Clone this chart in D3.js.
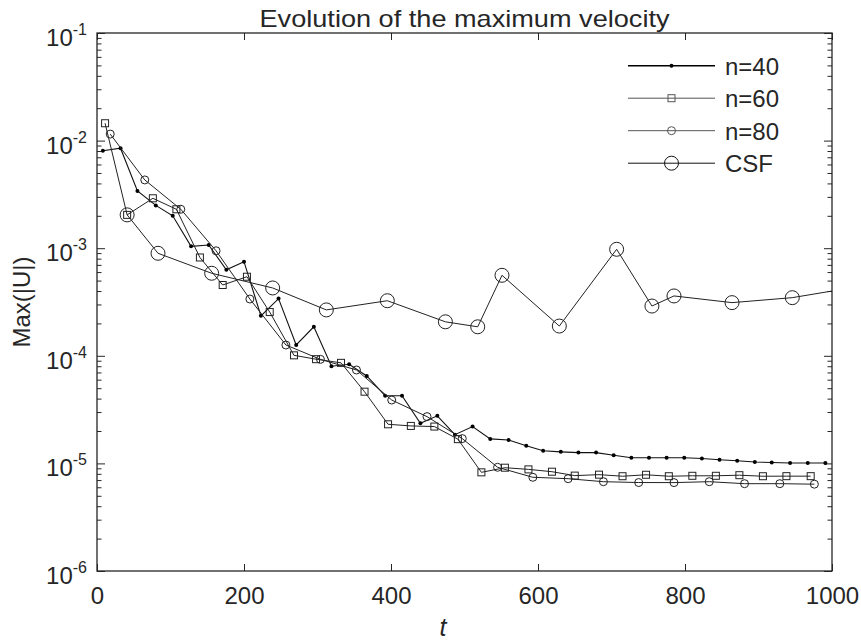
<!DOCTYPE html>
<html>
<head>
<meta charset="utf-8">
<script src="https://cdn.jsdelivr.net/npm/d3@7"></script>
<style>
  body { margin: 0; background: #fff; }
  text { font-family: Arial, "Liberation Sans", sans-serif; fill: #262626; }
</style>
</head>
<body>
<svg id="chart" width="861" height="641"></svg>
<script>
// values
const t40 = [8, 32, 55, 80, 103, 128, 152, 176, 200, 223, 247, 271, 295, 319, 343, 367, 392, 415, 440, 463,
  487, 511, 535, 560, 584, 607, 631, 655, 679, 703, 727, 751, 775, 799, 823, 847, 871, 895, 918, 943, 967, 991];
const v40 = [8.05e-3, 8.5e-3, 3.4e-3, 2.5e-3, 2.0e-3, 1.04e-3, 1.07e-3, 6.3e-4, 7.5e-4, 2.35e-4, 3.4e-4, 1.26e-4,
  1.86e-4, 8.0e-5, 8.35e-5, 6.5e-5, 4.26e-5, 4.26e-5, 2.36e-5, 2.77e-5, 1.85e-5, 2.2e-5, 1.69e-5, 1.65e-5,
  1.46e-5, 1.31e-5, 1.28e-5, 1.26e-5, 1.26e-5, 1.19e-5, 1.13e-5, 1.13e-5, 1.13e-5, 1.13e-5, 1.11e-5, 1.08e-5,
  1.06e-5, 1.03e-5, 1.02e-5, 1.01e-5, 1.01e-5, 1.01e-5];

const t60 = [11, 41, 76, 108, 140, 171, 204, 235, 268, 298, 332, 364, 396, 427, 459, 491,
  523, 555, 587, 619, 650, 683, 715, 747, 778, 810, 842, 874, 906, 938, 971];
const v60 = [1.45e-2, 2.04e-3, 2.91e-3, 2.3e-3, 8.2e-4, 4.55e-4, 5.43e-4, 2.55e-4, 1.01e-4, 9.3e-5, 8.6e-5,
  4.64e-5, 2.31e-5, 2.23e-5, 2.2e-5, 1.68e-5, 8.26e-6, 9.12e-6, 8.8e-6, 8.37e-6, 7.7e-6, 7.86e-6, 7.6e-6,
  7.84e-6, 7.6e-6, 7.67e-6, 7.67e-6, 7.77e-6, 7.6e-6, 7.61e-6, 7.61e-6];

const t80 = [18, 65, 114, 162, 208, 257, 304, 353, 401, 449, 497, 545, 593, 641, 689, 737, 785, 833, 881, 929, 976];
const v80 = [1.15e-2, 4.31e-3, 2.3e-3, 9.46e-4, 3.37e-4, 1.26e-4, 9.27e-5, 7.38e-5, 3.88e-5, 2.72e-5, 1.7e-5,
  9.2e-6, 7.43e-6, 7.21e-6, 6.76e-6, 6.64e-6, 6.63e-6, 6.76e-6, 6.48e-6, 6.48e-6, 6.41e-6];

const tCSF = [41, 83, 156, 239, 312, 395, 474, 518, 551, 629, 707, 755, 785, 864, 946, 1039];
const vCSF = [2.04e-3, 8.97e-4, 5.85e-4, 4.27e-4, 2.67e-4, 3.25e-4, 2.07e-4, 1.86e-4, 5.6e-4, 1.89e-4,
  9.77e-4, 2.9e-4, 3.6e-4, 3.12e-4, 3.47e-4, 4.43e-4];

const seriesNames = ['n=40', 'n=60', 'n=80', 'CSF'];
const xTicks = [0, 200, 400, 600, 800, 1000];
const yExponents = [-6, -5, -4, -3, -2, -1];

const width = 861, height = 641;
const margin = { top: 33, right: 29, bottom: 70, left: 97 };
const x0 = margin.left, x1 = width - margin.right;
const y0 = height - margin.bottom, y1 = margin.top;
const fs = 24;

const svg = d3.select('#chart');

const x = d3.scaleLinear().domain([0, 1000]).range([x0, x1]);
const y = d3.scaleLog().domain([1e-6, 1e-1]).range([y0, y1]);

const majorY = yExponents.map(e => Math.pow(10, e));
const minorY = [];
yExponents.slice(0, -1).forEach(e => {
  for (let m = 2; m <= 9; m++) minorY.push(m * Math.pow(10, e));
});

const axisColor = '#262626';

function styleAxis(g) {
  g.select('.domain').remove();
  g.selectAll('.tick line').attr('stroke', axisColor).attr('stroke-width', 1);
}

// y ticks, left and right, pointing in
svg.append('g').attr('transform', `translate(${x0},0)`)
  .call(d3.axisLeft(y).tickValues(majorY).tickSize(-8).tickFormat(''))
  .call(styleAxis);
svg.append('g').attr('transform', `translate(${x0},0)`)
  .call(d3.axisLeft(y).tickValues(minorY).tickSize(-4.5).tickFormat(''))
  .call(styleAxis);
svg.append('g').attr('transform', `translate(${x1},0)`)
  .call(d3.axisRight(y).tickValues(majorY).tickSize(-8).tickFormat(''))
  .call(styleAxis);
svg.append('g').attr('transform', `translate(${x1},0)`)
  .call(d3.axisRight(y).tickValues(minorY).tickSize(-4.5).tickFormat(''))
  .call(styleAxis);

// x ticks, bottom with labels and top without
const xb = svg.append('g').attr('transform', `translate(0,${y0})`)
  .call(d3.axisBottom(x).tickValues(xTicks).tickSize(-7).tickPadding(16).tickFormat(d3.format('d')))
  .call(styleAxis);
xb.selectAll('text').attr('font-size', fs).attr('fill', axisColor)
  .style('font-family', 'Arial, "Liberation Sans", sans-serif');
svg.append('g').attr('transform', `translate(0,${y1})`)
  .call(d3.axisTop(x).tickValues(xTicks).tickSize(-7).tickFormat(''))
  .call(styleAxis);

// y labels with superscript exponents
const yl = svg.append('g').selectAll('text')
  .data(yExponents)
  .join('text')
  .attr('x', x0 - 10)
  .attr('y', d => y(Math.pow(10, d)) + 13)
  .attr('text-anchor', 'end')
  .attr('font-size', fs);
yl.append('tspan').text('10');
yl.append('tspan').attr('font-size', 16).attr('dy', -11).text(d => `${d}`);

// plot frame
svg.append('rect')
  .attr('x', x0).attr('y', y1)
  .attr('width', x1 - x0).attr('height', y0 - y1)
  .attr('fill', 'none').attr('stroke', axisColor).attr('stroke-width', 1.3);

svg.append('clipPath').attr('id', 'clip')
  .append('rect').attr('x', x0).attr('y', y1).attr('width', x1 - x0).attr('height', y0 - y1);

const plot = svg.append('g').attr('clip-path', 'url(#clip)');

const series = [
  { name: seriesNames[0], t: t40, v: v40, marker: 'dot', stroke: '#111', sw: 1.1 },
  { name: seriesNames[1], t: t60, v: v60, marker: 'square', stroke: '#222', sw: 1 },
  { name: seriesNames[2], t: t80, v: v80, marker: 'circle', stroke: '#222', sw: 1 },
  { name: seriesNames[3], t: tCSF, v: vCSF, marker: 'big', stroke: '#222', sw: 1 }
];

const line = d3.line().x(d => x(d[0])).y(d => y(d[1]));

function drawMarker(g, kind, stroke) {
  if (kind === 'dot') {
    g.append('circle').attr('r', 2).attr('fill', '#000');
  } else if (kind === 'square') {
    g.append('rect').attr('x', -3.5).attr('y', -3.5).attr('width', 7).attr('height', 7)
      .attr('fill', 'none').attr('stroke', stroke).attr('stroke-width', 1);
  } else if (kind === 'circle') {
    g.append('circle').attr('r', 4).attr('fill', 'none').attr('stroke', stroke).attr('stroke-width', 1);
  } else {
    g.append('circle').attr('r', 7).attr('fill', 'none').attr('stroke', stroke).attr('stroke-width', 1);
  }
}

series.forEach(s => {
  const pts = d3.zip(s.t, s.v);
  plot.append('path')
    .datum(pts)
    .attr('fill', 'none')
    .attr('stroke', s.stroke)
    .attr('stroke-width', s.sw)
    .attr('d', line);
  plot.append('g').selectAll('g')
    .data(pts)
    .join('g')
    .attr('transform', d => `translate(${x(d[0])},${y(d[1])})`)
    .each(function () { drawMarker(d3.select(this), s.marker, s.stroke); });
});

// legend
const legend = svg.append('g');
const legendColors = ['#000', '#555', '#555', '#111'];
series.forEach((s, i) => {
  const ly = 65.7 + i * 32.5;
  legend.append('line')
    .attr('x1', 628).attr('x2', 715).attr('y1', ly).attr('y2', ly)
    .attr('stroke', legendColors[i]).attr('stroke-width', i === 0 ? 1.4 : 1);
  const m = legend.append('g').attr('transform', `translate(671.5,${ly})`);
  drawMarker(m, s.marker, legendColors[i]);
  legend.append('text')
    .attr('x', 725).attr('y', ly + 9)
    .attr('font-size', fs)
    .text(s.name);
});

// title and axis labels
svg.append('text')
  .attr('x', (x0 + x1) / 2).attr('y', 27)
  .attr('text-anchor', 'middle').attr('font-size', fs)
  .attr('textLength', 410).attr('lengthAdjust', 'spacingAndGlyphs')
  .text('Evolution of the maximum velocity');

svg.append('text')
  .attr('x', 443).attr('y', 636)
  .attr('text-anchor', 'middle').attr('font-size', 25).attr('font-style', 'italic')
  .text('t');

svg.append('text')
  .attr('transform', `translate(30,${(y0 + y1) / 2}) rotate(-90)`)
  .attr('text-anchor', 'middle').attr('font-size', fs)
  .text('Max(|U|)');
</script>
</body>
</html>
